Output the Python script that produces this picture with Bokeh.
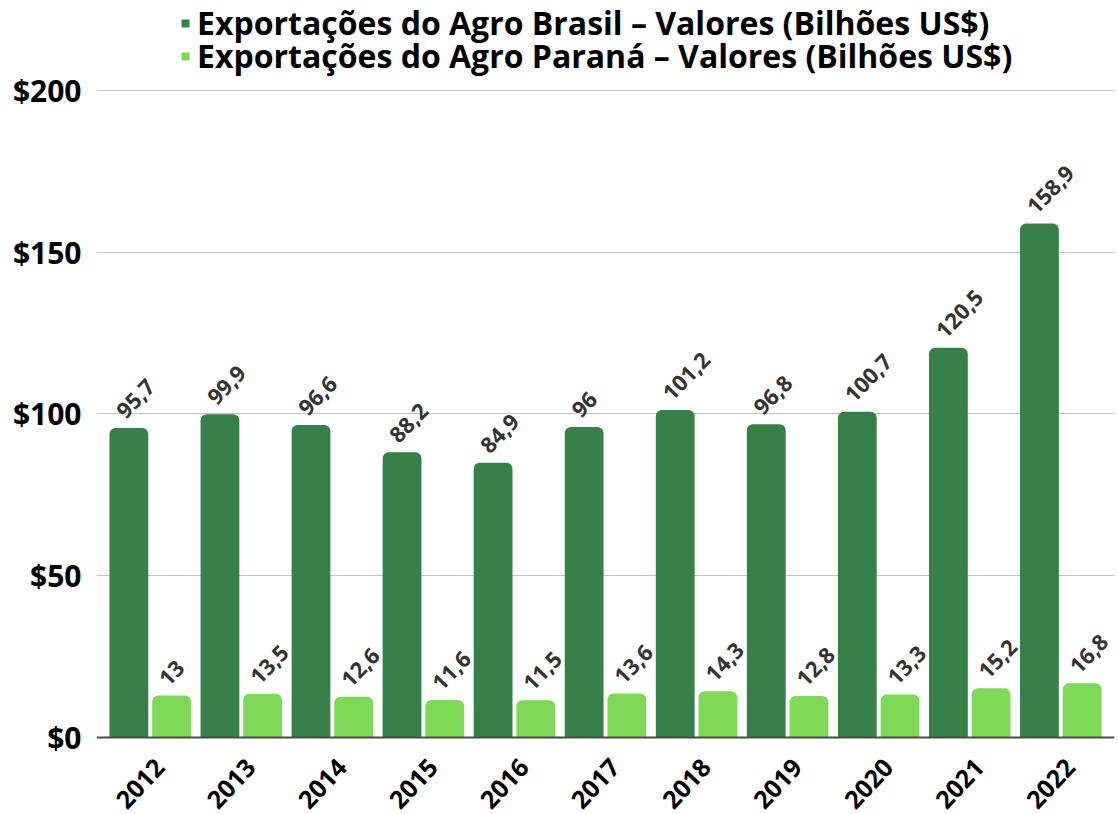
from bokeh.plotting import figure
from bokeh.models import (ColumnDataSource, FactorRange, Legend, LegendItem, FixedTicker, Span)
from bokeh.transform import dodge
from bokeh.core.properties import value
from bokeh.embed import file_html
from bokeh.resources import INLINE

years = ["2012", "2013", "2014", "2015", "2016", "2017", "2018", "2019", "2020", "2021", "2022"]
brasil = [95.7, 99.9, 96.6, 88.2, 84.9, 96.0, 101.2, 96.8, 100.7, 120.5, 158.9]
parana = [13.0, 13.5, 12.6, 11.6, 11.5, 13.6, 14.3, 12.8, 13.3, 15.2, 16.8]
legend_labels = ["Exportações do Agro Brasil – Valores (Bilhões US$)",
                 "Exportações do Agro Paraná – Valores (Bilhões US$)"]
y_ticks = [0, 50, 100, 150, 200]
y_tick_labels = ["$0", "$50", "$100", "$150", "$200"]

DARK = "#388049"
LIGHT = "#7ed957"
FONT = "Open Sans"

def fmt(v):
    return f"{v:g}".replace(".", ",")

src = ColumnDataSource(dict(year=years, brasil=brasil, parana=parana,
                            base=[0] * len(years),
                            lb=[fmt(v) for v in brasil], lp=[fmt(v) for v in parana]))

BAR_W = 0.426
OFF = 0.2345
# small outer padding so the last value label is not clipped
x_range = FactorRange(*years, range_padding=0.09, range_padding_units="absolute")

# frame extends above 200 (legend) and below 0 (year labels); ticks only 0..200
p = figure(x_range=x_range, y_range=(-23.8, 227.8), frame_width=1018, frame_height=814,
           output_backend="svg", toolbar_location=None,
           min_border_left=96, min_border_right=4, min_border_top=0, min_border_bottom=0)
p.background_fill_color = "white"
p.border_fill_color = "white"
p.outline_line_color = None

rb = p.vbar(x=dodge("year", -OFF, range=p.x_range), top="brasil", bottom=0, width=BAR_W,
            source=src, fill_color=DARK, line_color=None, border_radius=(6, 6, 0, 0))
rp = p.vbar(x=dodge("year", OFF, range=p.x_range), top="parana", bottom=0, width=BAR_W,
            source=src, fill_color=LIGHT, line_color=None, border_radius=(6, 6, 0, 0))

for off, col, lab in ((-OFF, "brasil", "lb"), (OFF, "parana", "lp")):
    p.text(x=dodge("year", off, range=p.x_range), y=col, text=lab, source=src, angle=0.8,
           text_font=value(FONT), text_font_style="bold", text_font_size="22px",
           text_color="#333333", text_align="left", text_baseline="bottom",
           x_offset=-3, y_offset=-8)

# year labels under the baseline
p.text(x="year", y="base", text="year", source=src, angle=0.82,
       text_font=value(FONT), text_font_style="bold", text_font_size="25px",
       text_color="#000000", text_align="center", text_baseline="middle",
       x_offset=-10, y_offset=46)

p.xgrid.grid_line_color = None
p.ygrid.grid_line_color = "#c4c4c4"
p.ygrid.grid_line_width = 1
p.ygrid.ticker = FixedTicker(ticks=y_ticks)

p.yaxis.ticker = FixedTicker(ticks=y_ticks)
p.yaxis.major_label_overrides = {t: l for t, l in zip(y_ticks, y_tick_labels)}
p.yaxis.axis_line_color = None
p.yaxis.major_tick_line_color = None
p.yaxis.minor_tick_line_color = None
p.yaxis.major_label_text_font = FONT
p.yaxis.major_label_text_font_style = "bold"
p.yaxis.major_label_text_font_size = "30px"
p.yaxis.major_label_text_color = "#000000"
p.yaxis.major_label_standoff = 9

p.xaxis.visible = False
p.add_layout(Span(location=0, dimension="width", line_color="#4a4a4a", line_width=2))

legend_style = dict(orientation="vertical",
                    label_text_font=FONT, label_text_font_style="bold",
                    label_text_font_size="32px", label_text_color="#000000",
                    glyph_width=10, glyph_height=10, label_height=30, label_standoff=7,
                    spacing=0, padding=0, margin=0, border_line_color=None,
                    background_fill_alpha=0)
legend1 = Legend(items=[LegendItem(label=legend_labels[0], renderers=[rb])],
                 location=(84, 770), **legend_style)
legend2 = Legend(items=[LegendItem(label=legend_labels[1], renderers=[rp])],
                 location=(84, 737), **legend_style)
p.add_layout(legend1, "center")
p.add_layout(legend2, "center")

open("out.html", "w").write(file_html(p, INLINE))
